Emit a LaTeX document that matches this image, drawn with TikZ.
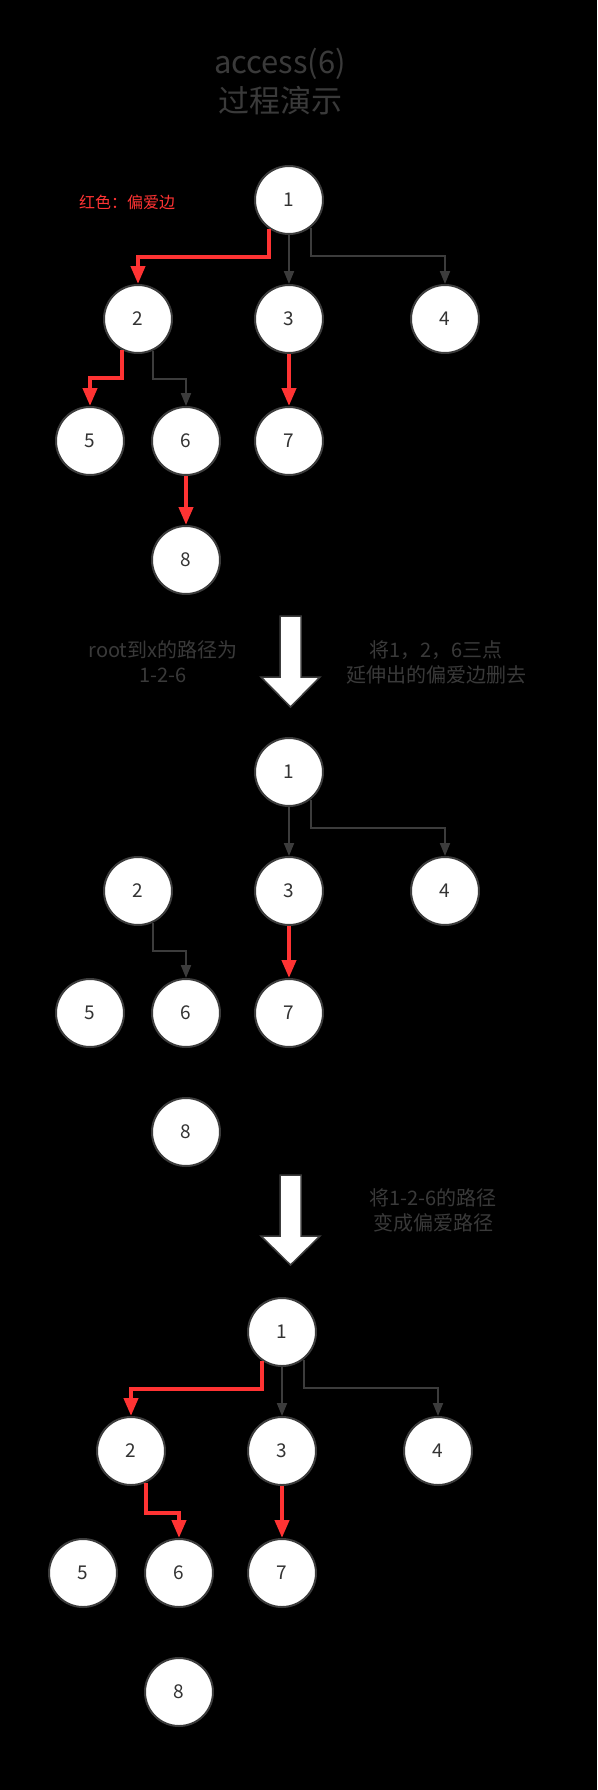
\documentclass[tikz,border=0pt]{standalone}
\usepackage{fontspec}
\setmainfont{Noto Sans CJK SC}
\usepackage{xcolor}
\definecolor{favred}{HTML}{FF3333}
\definecolor{linegray}{HTML}{3C3C3C}
\definecolor{notegray}{HTML}{3A3A3A}
\definecolor{digitgray}{HTML}{333333}
\usepackage{tikz}
\usetikzlibrary{shapes.geometric, arrows.meta, calc}

\begin{document}
\begin{tikzpicture}[x=1pt, y=-1pt,
  vertex/.style={circle, draw=linegray, line width=2pt, fill=white, minimum size=68pt, inner sep=0pt, font=\fontsize{19}{19}\selectfont, text=digitgray},
  plainedge/.style={draw=linegray, line width=2pt, -{Triangle[length=13pt, width=10pt]}},
  favedge/.style={draw=favred, line width=4pt, -{Triangle[length=18pt, width=14pt]}},
  note/.style={text=notegray, align=center, font=\fontsize{20}{25}\selectfont},
  bigarrow/.style={fill=white, draw=linegray, line width=1.5pt}]
  \fill[black] (0,0) rectangle (597,1790);
  \node[text=notegray, align=center, font=\fontsize{31}{39}\selectfont] (title) at (280,82) {access(6)\\过程演示};
  \node[text=favred, font=\fontsize{16}{16}\selectfont] (legend) at (127,202) {红色：偏爱边};
  \foreach \tr/\dx/\dy in {a/0/0, b/0/572, c/-7/1132}
    \foreach \n/\x/\y in {1/289/200, 2/138/319, 3/289/319, 4/445/319, 5/90/441, 6/186/441, 7/289/441, 8/186/560}
      \node[vertex] (\tr\n) at (\x+\dx,\y+\dy) {\n};
  \foreach \tr in {a,b,c} {
    \draw[plainedge] (\tr1) -- (\tr3);
    \draw[plainedge] (\tr1.308) -- ++(0,28) -| (\tr4.north);
    \draw[favedge] (\tr3) -- (\tr7);
  }
  \draw[favedge] (a1.236) -- ++(0,28) -| (a2.north);
  \draw[favedge] (a2.243) -- ++(0,28) -| (a5.north);
  \draw[plainedge] (a2.295) -- ++(0,28) -| (a6.north);
  \draw[favedge] (a6) -- (a8);
  \draw[plainedge] (b2.295) -- ++(0,28) -| (b6.north);
  \draw[favedge] (c1.236) -- ++(0,28) -| (c2.north);
  \draw[favedge] (c2.295) -- ++(0,30) -| (c6.north);
  \foreach \ay/\len in {616/91, 1175/90}
    \filldraw[bigarrow] (280,\ay) -- (301,\ay) -- (301,\ay+61) -- (320,\ay+61) -- (290.5,\ay+\len) -- (261,\ay+61) -- (280,\ay+61) -- cycle;
  \node[note] (pathnote) at (163,662) {root到x的路径为\\1-2-6};
  \node[note] (cutnote) at (436,662) {将1，2，6三点\\延伸出的偏爱边删去};
  \node[note] (favnote) at (433,1210) {将1-2-6的路径\\变成偏爱路径};
\end{tikzpicture}
\end{document}
